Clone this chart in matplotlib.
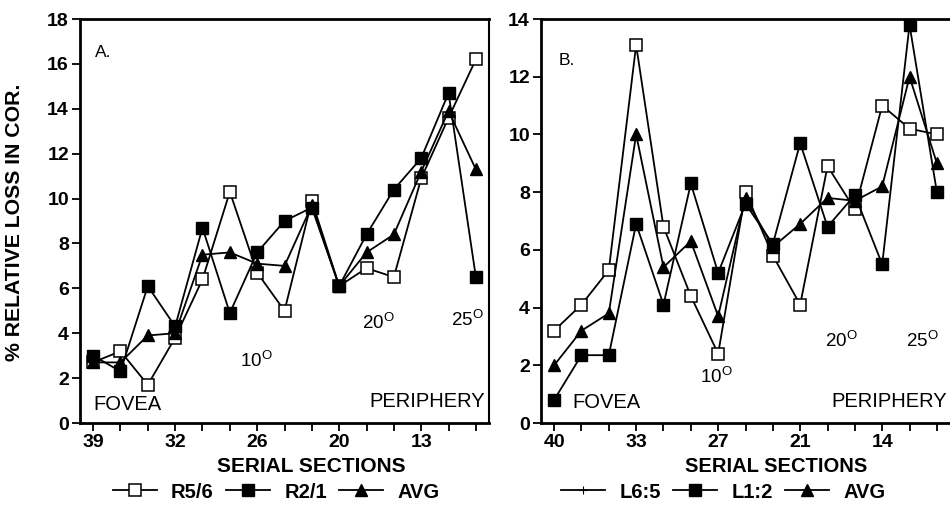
import matplotlib
matplotlib.use("Agg")
import matplotlib.pyplot as plt
from matplotlib.lines import Line2D

plt.rcParams['font.family'] = ['Liberation Sans', 'DejaVu Sans']
plt.rcParams['mathtext.fontset'] = 'custom'
plt.rcParams['mathtext.rm'] = 'Liberation Sans'

# ---- data ----
a_ticklabels = ["39", "32", "26", "20", "13"]
b_ticklabels = ["40", "33", "27", "21", "14"]
sections = list(range(15))  # serial section positions (left = fovea)

r56 = [2.7, 3.2, 1.7, 3.8, 6.4, 10.3, 6.7, 5.0, 9.9, 6.1, 6.9, 6.5, 10.9, 13.6, 16.2]
r21 = [3.0, 2.3, 6.1, 4.3, 8.7, 4.9, 7.6, 9.0, 9.6, 6.1, 8.4, 10.4, 11.8, 14.7, 6.5]
a_avg = [2.7, 2.7, 3.9, 4.0, 7.5, 7.6, 7.1, 7.0, 9.7, 6.1, 7.6, 8.4, 11.2, 13.9, 11.3]

l65 = [3.2, 4.1, 5.3, 13.1, 6.8, 4.4, 2.4, 8.0, 5.8, 4.1, 8.9, 7.4, 11.0, 10.2, 10.0]
l12 = [0.8, 2.35, 2.35, 6.9, 4.1, 8.3, 5.2, 7.6, 6.2, 9.7, 6.8, 7.9, 5.5, 13.8, 8.0]
b_avg = [2.0, 3.2, 3.8, 10.0, 5.4, 6.3, 3.7, 7.8, 6.1, 6.9, 7.8, 7.7, 8.2, 12.0, 9.0]

W, H = 950, 507
fig = plt.figure(figsize=(9.5, 5.07), dpi=100)

def fx(px):
    return px / W

def fy(py):
    return 1 - py / H

axA = fig.add_axes([fx(80), fy(423), fx(409), (423 - 19) / H])
axB = fig.add_axes([fx(541), fy(423), fx(409), (423 - 19) / H])

lw = 1.3
ms = 9.3

def style(ax, ymax, labels):
    ax.set_xlim(-0.48, 14.48)
    ax.set_ylim(0, ymax)
    ax.set_yticks(range(0, ymax + 1, 2))
    ax.set_xticks(sections)
    ax.set_xticklabels([labels[i // 3] if i % 3 == 0 and i // 3 < len(labels) else "" for i in sections])
    for s in ['left', 'bottom', 'top']:
        ax.spines[s].set_linewidth(2.0)
    ax.spines['right'].set_linewidth(1.5)
    ax.tick_params(axis='both', direction='out', length=5.5, width=1.3,
                   labelsize=14, pad=2.5)
    for t in ax.get_xticklabels() + ax.get_yticklabels():
        t.set_fontweight('bold')

# Panel A
axA.plot(sections, r56, '-', color='black', lw=lw, marker='s', ms=ms,
         mfc='white', mec='black', mew=1.1, zorder=3)
axA.plot(sections, r21, '-', color='black', lw=lw, marker='s', ms=ms,
         mfc='black', mec='black', zorder=4)
axA.plot(sections, a_avg, '-', color='black', lw=lw, marker='^', ms=ms,
         mfc='black', mec='black', zorder=5)
style(axA, 18, a_ticklabels)

# Panel B
axB.plot(sections, l65, '-', color='black', lw=lw, marker='s', ms=ms,
         mfc='white', mec='black', mew=1.1, zorder=3)
axB.plot(sections, l12, '-', color='black', lw=lw, marker='s', ms=ms,
         mfc='black', mec='black', zorder=4)
axB.plot(sections, b_avg, '-', color='black', lw=lw, marker='^', ms=ms,
         mfc='black', mec='black', zorder=5)
style(axB, 14, b_ticklabels)
axB.spines['right'].set_visible(False)

fs_ann = 14.5
fs_deg = 13.5
# annotations A
axA.text(0.07, 16.3, "A.", fontsize=12.5, ha='left', va='baseline')
axA.text(0.0, 0.58, "FOVEA", fontsize=fs_ann, ha='left', va='baseline')
axA.text(14.35, 0.71, "PERIPHERY", fontsize=fs_ann, ha='right', va='baseline')
axA.text(5.36, 2.5, r"10$^{\rm O}$", fontsize=fs_deg, ha='left', va='baseline')
axA.text(9.85, 4.2, r"20$^{\rm O}$", fontsize=fs_deg, ha='left', va='baseline')
axA.text(13.1, 4.33, r"25$^{\rm O}$", fontsize=fs_deg, ha='left', va='baseline')

# annotations B
axB.text(0.15, 12.4, "B.", fontsize=12.5, ha='left', va='baseline')
axB.text(0.66, 0.52, "FOVEA", fontsize=fs_ann, ha='left', va='baseline')
axB.text(14.36, 0.55, "PERIPHERY", fontsize=fs_ann, ha='right', va='baseline', clip_on=False)
axB.text(5.33, 1.39, r"10$^{\rm O}$", fontsize=fs_deg, ha='left', va='baseline')
axB.text(9.9, 2.63, r"20$^{\rm O}$", fontsize=fs_deg, ha='left', va='baseline')
axB.text(12.87, 2.63, r"25$^{\rm O}$", fontsize=fs_deg, ha='left', va='baseline')

# labels
fig.text(fx(15), fy(222), "% RELATIVE LOSS IN COR.", rotation=90, ha='center', va='center',
         fontsize=15.3, fontweight='bold')
fig.text(fx(311), fy(467), "SERIAL SECTIONS", ha='center', va='center', fontsize=15, fontweight='bold')
fig.text(fx(776), fy(467), "SERIAL SECTIONS", ha='center', va='center', fontsize=14.5, fontweight='bold')

# legends
hA = [Line2D([], [], color='black', lw=lw, marker='s', ms=ms, mfc='white', mec='black', mew=1.1),
      Line2D([], [], color='black', lw=lw, marker='s', ms=ms, mfc='black', mec='black'),
      Line2D([], [], color='black', lw=lw, marker='^', ms=ms, mfc='black', mec='black')]
hB = [Line2D([], [], color='black', lw=lw, marker='+', ms=6, mec='black', mew=0.8),
      Line2D([], [], color='black', lw=lw, marker='s', ms=ms, mfc='black', mec='black'),
      Line2D([], [], color='black', lw=lw, marker='^', ms=ms, mfc='black', mec='black')]
legA = fig.legend(hA, ["R5/6", "R2/1", "AVG"], loc='center', bbox_to_anchor=(fx(276), fy(492)),
                  ncol=3, frameon=False, handlelength=2.2, handletextpad=0.7,
                  columnspacing=0.6, prop={'weight': 'bold', 'size': 14.5})
legB = fig.legend(hB, ["L6:5", "L1:2", "AVG"], loc='center', bbox_to_anchor=(fx(723), fy(492)),
                  ncol=3, frameon=False, handlelength=2.2, handletextpad=0.7,
                  columnspacing=0.6, prop={'weight': 'bold', 'size': 14.5})

fig.savefig("out.png", dpi=100)
